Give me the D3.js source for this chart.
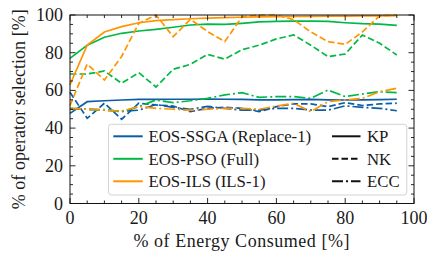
<!DOCTYPE html>
<html>
<head>
<meta charset="utf-8">
<script src="https://cdn.jsdelivr.net/npm/d3@7"></script>
<style>
  body { margin: 0; background: #fff; }
  text { font-family: 'Liberation Serif', 'Times New Roman', serif !important; }
</style>
</head>
<body>
<div class="viz"></div>
<script>
// energy consumed (%) sample points
const energy = [0, 5, 10, 15, 20, 25, 30, 35, 40, 45, 50, 55, 60, 65, 70, 75, 80, 85, 90, 95];

// operator selection (%) per algorithm / problem
const ssgaKP  = [47.8, 54, 54.5, 54.9, 55.2, 55.2, 55.3, 55.3, 55.4, 55.3, 55.2, 55, 55, 55.1, 55.2, 55, 54.9, 55, 55.1, 55.3];
const ssgaNK  = [59, 45.2, 53.2, 44.7, 53.2, 52.3, 51.7, 48.7, 50.5, 51, 50.5, 48.7, 51.4, 52.8, 52.8, 51.4, 53.5, 52, 52.8, 53.2];
const ssgaECC = [50, 50, 49.5, 49, 49.5, 52.5, 51, 50, 51.5, 50.5, 49.5, 49.5, 50.5, 50.5, 49.6, 49.5, 51.8, 51, 50.5, 49.2];
const psoKP   = [77, 84, 88.2, 90.3, 91.5, 92.4, 93.5, 94.7, 95.2, 95, 95.6, 96.4, 96.6, 96.8, 96.8, 96.6, 95.9, 95.4, 95.2, 94.5];
const psoNK   = [68.7, 68.7, 70.3, 63.8, 69.4, 61.8, 71.2, 73.8, 79.1, 76.6, 81.6, 84, 87.3, 89.4, 84, 77.9, 79.3, 89.4, 85, 78.8];
const psoECC  = [50.5, 50, 49.8, 48.7, 51.4, 54.9, 53.5, 54.5, 55.8, 57.6, 58.8, 56.3, 56.7, 56.7, 55.8, 60.2, 56.7, 58.1, 59.3, 58.8];
const ilsKP   = [63, 84, 91, 93.8, 95.9, 97, 97.5, 98, 98.3, 98.6, 98.8, 99, 99.1, 99.2, 99.3, 99.4, 99.4, 99.5, 99.5, 99.6];
const ilsNK   = [52, 74, 65.5, 78, 95.6, 100, 88.5, 97.7, 91.2, 85.9, 99, 100, 100, 97.5, 91, 85.9, 84.4, 91, 99.5, 100];
const ilsECC  = [50.5, 50, 49.5, 49, 51.5, 50.5, 50, 49.5, 50, 50.5, 50.5, 50, 51.7, 53.2, 48.7, 54, 54.9, 55.8, 59.3, 61.1];

const xTicks = [0, 20, 40, 60, 80, 100];
const yTicks = [0, 20, 40, 60, 80, 100];

const algos = [
  { name: 'EOS-SSGA (Replace-1)', color: '#0C5DA5', kp: ssgaKP, nk: ssgaNK, ecc: ssgaECC },
  { name: 'EOS-PSO (Full)', color: '#00B945', kp: psoKP, nk: psoNK, ecc: psoECC },
  { name: 'EOS-ILS (ILS-1)', color: '#FF9500', kp: ilsKP, nk: ilsNK, ecc: ilsECC }
];
const styles = [
  { key: 'kp', label: 'KP', dash: null },
  { key: 'nk', label: 'NK', dash: '6.5,3' },
  { key: 'ecc', label: 'ECC', dash: '11,3,2,3' }
];

const FONT = 'Liberation Serif';

const W = 427, H = 255;
const margin = { top: 15, right: 13, bottom: 51.5, left: 70 };
const width = W - margin.left - margin.right,
  height = H - margin.top - margin.bottom;

const svg = d3.select('.viz').append('svg')
  .attr('width', W).attr('height', H)
  .attr('font-family', FONT);
const g = svg.append('g')
  .attr('transform', 'translate(' + margin.left + ',' + margin.top + ')');

const x = d3.scaleLinear().domain([0, 100]).range([0, width]);
const y = d3.scaleLinear().domain([0, 100]).range([height, 0]);

const line = vals => d3.line()
  .x((d, i) => x(energy[i]))
  .y(d => y(d))(vals);

// draw series
algos.forEach(a => styles.forEach(s => {
  g.append('path')
    .attr('d', line(a[s.key]))
    .attr('fill', 'none')
    .attr('stroke', a.color)
    .attr('stroke-width', 1.7)
    .attr('stroke-dasharray', s.dash);
}));

// ticks inward on all four sides
const minor = d3.range(0, 101, 5);
const tickG = g.append('g').attr('stroke', '#111').attr('stroke-width', 0.9);
minor.forEach(v => {
  const len = v % 20 === 0 ? 5.5 : 3;
  tickG.append('line').attr('x1', x(v)).attr('x2', x(v)).attr('y1', height).attr('y2', height - len);
  tickG.append('line').attr('x1', x(v)).attr('x2', x(v)).attr('y1', 0).attr('y2', len);
  tickG.append('line').attr('y1', y(v)).attr('y2', y(v)).attr('x1', 0).attr('x2', len);
  tickG.append('line').attr('y1', y(v)).attr('y2', y(v)).attr('x1', width).attr('x2', width - len);
});

g.append('rect')
  .attr('width', width).attr('height', height)
  .attr('fill', 'none').attr('stroke', '#111').attr('stroke-width', 1);

function txt(sel, size) {
  sel.attr('font-family', FONT).attr('font-size', size).attr('fill', '#1a1a1a');
}

g.selectAll('.xt').data(xTicks).enter().append('text')
  .attr('x', d => x(d)).attr('y', 223.5 - margin.top)
  .attr('text-anchor', 'middle')
  .call(txt, 18)
  .text(d => d);
g.selectAll('.yt').data(yTicks).enter().append('text')
  .attr('x', 63 - margin.left).attr('y', d => y(d) + 6)
  .attr('text-anchor', 'end')
  .call(txt, 18)
  .text(d => d);

svg.append('text')
  .attr('x', 241.5).attr('y', 247)
  .attr('text-anchor', 'middle')
  .attr('textLength', 216).attr('lengthAdjust', 'spacing')
  .call(txt, 18)
  .text('% of Energy Consumed [%]');
svg.append('text')
  .attr('transform', 'translate(25,' + (margin.top + height / 2) + ') rotate(-90)')
  .attr('text-anchor', 'middle')
  .attr('textLength', 200).attr('lengthAdjust', 'spacing')
  .call(txt, 18)
  .text('% of operator selection [%]');

// legend
const leg = g.append('g').attr('transform', 'translate(' + (108.5 - margin.left) + ',' + (124.3 - margin.top) + ')');
leg.append('rect')
  .attr('width', 298.3).attr('height', 70.7).attr('rx', 3)
  .attr('fill', 'rgba(255,255,255,0.85)').attr('stroke', '#d3d3d3').attr('stroke-width', 1);
algos.forEach((a, i) => {
  const yy = 12 + i * 22.5;
  leg.append('line').attr('x1', 4.8).attr('x2', 34.2).attr('y1', yy).attr('y2', yy)
    .attr('stroke', a.color).attr('stroke-width', 2);
  leg.append('text').attr('x', 40).attr('y', yy + 5.8).call(txt, 16.8).text(a.name);
});
styles.forEach((s, i) => {
  const yy = 12 + i * 22.5;
  leg.append('line').attr('x1', 223.5).attr('x2', 252).attr('y1', yy).attr('y2', yy)
    .attr('stroke', '#111').attr('stroke-width', 2).attr('stroke-dasharray', s.dash);
  leg.append('text').attr('x', 258.5).attr('y', yy + 5.8).call(txt, 16.8).text(s.label);
});
</script>
</body>
</html>
